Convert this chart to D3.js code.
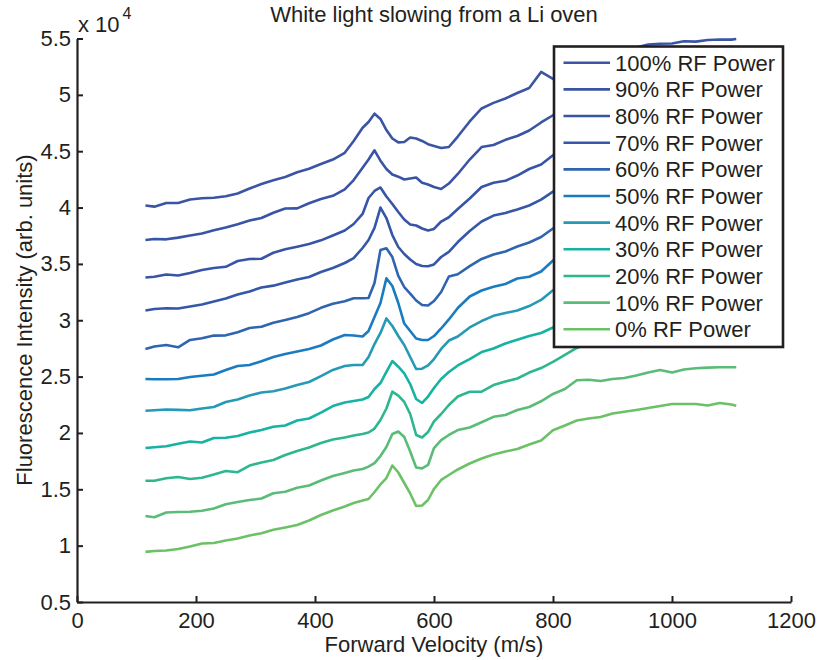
<!DOCTYPE html>
<html>
<head>
<meta charset="utf-8">
<script src="https://cdn.jsdelivr.net/npm/d3@7"></script>
<style>
  body { margin: 0; background: #ffffff; }
  svg text { font-family: "Liberation Sans", Arial, Helvetica, sans-serif; fill: #231f20; }
</style>
</head>
<body>
<svg id="chart" width="819" height="660"></svg>
<script>
// ---------------- data (intensity in units of 10^4) ----------------
const velocity = [115,130,150,170,190,210,230,250,270,290,310,330,350,370,390,410,430,450,465,480,
  490,500,510,520,530,540,550,560,570,580,590,600,612,625,640,660,680,700,720,740,
  760,780,800,820,840,860,880,900,920,940,960,980,1000,1020,1040,1060,1080,1100,1108];

const rf100 = [4.018,4.008,4.040,4.040,4.071,4.082,4.087,4.101,4.125,4.169,4.209,4.242,4.271,4.313,4.344,4.386,4.426,4.486,4.591,4.708,
  4.759,4.833,4.786,4.688,4.613,4.578,4.582,4.622,4.613,4.591,4.562,4.546,4.528,4.537,4.630,4.764,4.879,4.929,4.968,5.016,
  5.061,5.203,5.141,5.185,5.238,5.283,5.327,5.363,5.398,5.421,5.447,5.453,5.456,5.476,5.472,5.487,5.491,5.490,5.496];
const rf90 = [3.712,3.721,3.718,3.733,3.752,3.770,3.799,3.823,3.852,3.885,3.907,3.954,3.992,3.993,4.038,4.076,4.104,4.162,4.244,4.353,
  4.426,4.508,4.416,4.342,4.293,4.274,4.249,4.258,4.267,4.220,4.205,4.182,4.165,4.213,4.298,4.426,4.537,4.555,4.601,4.635,
  4.684,4.755,4.819,4.857,4.901,4.945,4.990,5.025,5.061,5.087,5.114,5.132,5.149,5.167,5.176,5.185,5.194,5.203,5.203];
const rf80 = [3.379,3.386,3.406,3.397,3.419,3.446,3.464,3.474,3.526,3.543,3.546,3.599,3.630,3.653,3.677,3.709,3.752,3.796,3.854,3.943,
  4.085,4.147,4.178,4.098,4.032,3.961,3.894,3.850,3.841,3.814,3.796,3.810,3.876,3.914,3.987,4.080,4.182,4.220,4.237,4.284,
  4.342,4.382,4.464,4.511,4.555,4.599,4.644,4.679,4.715,4.750,4.777,4.803,4.821,4.839,4.857,4.866,4.875,4.883,4.883];
const rf70 = [3.087,3.100,3.106,3.104,3.122,3.140,3.166,3.193,3.229,3.255,3.291,3.307,3.335,3.362,3.384,3.428,3.464,3.508,3.552,3.641,
  3.712,3.819,4.000,3.907,3.756,3.650,3.588,3.539,3.499,3.481,3.479,3.495,3.561,3.606,3.694,3.792,3.876,3.929,3.952,3.983,
  4.018,4.071,4.142,4.191,4.236,4.280,4.324,4.360,4.395,4.431,4.457,4.484,4.502,4.520,4.537,4.546,4.555,4.564,4.564];
const rf60 = [2.745,2.767,2.780,2.760,2.825,2.841,2.864,2.866,2.893,2.931,2.943,2.978,3.002,3.029,3.063,3.110,3.146,3.168,3.195,3.195,
  3.197,3.331,3.623,3.638,3.561,3.393,3.295,3.237,3.175,3.135,3.131,3.171,3.251,3.388,3.408,3.480,3.544,3.583,3.610,3.654,
  3.690,3.739,3.814,3.863,3.907,3.952,3.996,4.032,4.067,4.103,4.129,4.156,4.174,4.191,4.209,4.218,4.227,4.236,4.236];
const rf50 = [2.479,2.476,2.477,2.479,2.496,2.508,2.519,2.559,2.594,2.603,2.636,2.674,2.701,2.723,2.745,2.776,2.829,2.869,2.865,2.856,
  2.905,3.029,3.153,3.372,3.304,3.153,2.971,2.905,2.838,2.825,2.825,2.860,2.927,3.007,3.109,3.211,3.264,3.298,3.322,3.370,
  3.386,3.433,3.530,3.579,3.623,3.668,3.712,3.748,3.783,3.810,3.836,3.863,3.881,3.898,3.916,3.925,3.934,3.943,3.943];
const rf40 = [2.197,2.202,2.208,2.205,2.202,2.217,2.230,2.275,2.297,2.332,2.359,2.370,2.394,2.425,2.452,2.505,2.559,2.594,2.603,2.603,
  2.674,2.789,2.887,3.016,2.949,2.860,2.780,2.674,2.567,2.570,2.599,2.656,2.745,2.820,2.856,2.936,2.993,3.039,3.064,3.087,
  3.126,3.180,3.267,3.313,3.357,3.401,3.446,3.481,3.517,3.543,3.570,3.597,3.614,3.632,3.650,3.659,3.668,3.677,3.677];
const rf30 = [1.866,1.873,1.882,1.904,1.924,1.915,1.955,1.957,1.973,2.004,2.026,2.055,2.066,2.110,2.128,2.181,2.239,2.270,2.284,2.297,
  2.319,2.390,2.443,2.541,2.638,2.588,2.528,2.434,2.301,2.266,2.323,2.399,2.479,2.541,2.599,2.656,2.718,2.749,2.794,2.827,
  2.860,2.887,2.936,2.984,3.029,3.073,3.118,3.153,3.189,3.215,3.242,3.268,3.286,3.304,3.322,3.331,3.340,3.348,3.348];
const rf20 = [1.576,1.576,1.598,1.609,1.591,1.602,1.631,1.662,1.652,1.711,1.738,1.760,1.804,1.840,1.871,1.911,1.942,1.960,1.977,1.991,
  2.004,2.039,2.115,2.217,2.366,2.332,2.275,2.168,1.982,1.960,2.008,2.102,2.168,2.248,2.323,2.366,2.366,2.425,2.457,2.483,
  2.536,2.576,2.630,2.692,2.754,2.798,2.834,2.869,2.905,2.931,2.958,2.984,3.002,3.020,3.038,3.047,3.056,3.064,3.064];
const rf10 = [1.263,1.252,1.294,1.299,1.301,1.309,1.330,1.368,1.387,1.405,1.418,1.465,1.478,1.513,1.534,1.578,1.618,1.645,1.667,1.680,
  1.701,1.733,1.795,1.875,1.991,2.013,1.964,1.835,1.693,1.686,1.716,1.866,1.937,1.982,2.026,2.048,2.095,2.143,2.159,2.204,
  2.230,2.281,2.346,2.390,2.467,2.472,2.461,2.479,2.488,2.510,2.536,2.559,2.536,2.563,2.574,2.580,2.583,2.583,2.583];
const rf0 = [0.945,0.953,0.957,0.970,0.992,1.019,1.024,1.046,1.063,1.090,1.110,1.141,1.161,1.183,1.223,1.272,1.312,1.347,1.378,1.401,
  1.414,1.476,1.543,1.600,1.711,1.649,1.556,1.463,1.352,1.356,1.405,1.503,1.583,1.627,1.676,1.729,1.773,1.809,1.835,1.858,
  1.898,1.933,2.024,2.066,2.110,2.128,2.142,2.173,2.188,2.204,2.221,2.239,2.257,2.257,2.257,2.244,2.266,2.252,2.242];

const seriesLabels = ["100% RF Power","90% RF Power","80% RF Power","70% RF Power","60% RF Power","50% RF Power",
  "40% RF Power","30% RF Power","20% RF Power","10% RF Power","0% RF Power"];
const seriesValues = [rf100, rf90, rf80, rf70, rf60, rf50, rf40, rf30, rf20, rf10, rf0];
const seriesColors = ["#3b54a4","#3a54a5","#3854a6","#3557a8","#2f64ae","#1b7bc0","#2599b6","#16b2a3","#2eb78e","#5bbc77","#6cc166"];

const xTicks = [0,200,400,600,800,1000,1200];
const yTicks = [0.5,1,1.5,2,2.5,3,3.5,4,4.5,5,5.5];
const titleText = "White light slowing from a Li oven";
const xLabelText = "Forward Velocity (m/s)";
const yLabelText = "Fluorescence Intensity (arb. units)";
const exponentBase = "x 10";
const exponentPower = "4";

// ---------------- drawing ----------------
const ink = "#231f20";
const svg = d3.select("#chart");
const x = d3.scaleLinear().domain([0, 1200]).range([77, 791]);
const y = d3.scaleLinear().domain([0.5, 5.5]).range([602, 38.5]);

// data lines
const line = d3.line()
  .x((d, i) => x(velocity[i]))
  .y(d => y(d));

svg.append("g").selectAll("path")
  .data(seriesValues)
  .join("path")
  .attr("d", d => line(d))
  .attr("fill", "none")
  .attr("stroke", (d, i) => seriesColors[i])
  .attr("stroke-width", 2.6)
  .attr("stroke-linejoin", "round")
  .attr("stroke-linecap", "butt");

// axes
const xAxis = d3.axisBottom(x).tickValues(xTicks).tickFormat(d3.format("d"))
  .tickSizeInner(-6).tickSizeOuter(0).tickPadding(10);
const yAxis = d3.axisLeft(y).tickValues(yTicks).tickFormat(d => String(d))
  .tickSizeInner(-6).tickSizeOuter(0).tickPadding(6);

const gx = svg.append("g").attr("transform", "translate(0,602)").call(xAxis);
const gy = svg.append("g").attr("transform", "translate(77,0)").call(yAxis);
[gx, gy].forEach(g => {
  g.select(".domain").attr("stroke", ink).attr("stroke-width", 2.2);
  g.selectAll(".tick line").attr("stroke", ink).attr("stroke-width", 2);
  g.selectAll(".tick text").attr("font-size", 22)
    .attr("font-family", '"Liberation Sans", Arial, Helvetica, sans-serif').attr("fill", ink);
});

// title and labels
svg.append("text").attr("x", 434).attr("y", 22).attr("text-anchor", "middle")
  .attr("font-size", 22).text(titleText);
svg.append("text").attr("x", 434).attr("y", 652).attr("text-anchor", "middle")
  .attr("font-size", 22).text(xLabelText);
svg.append("text").attr("transform", "translate(31.5,320) rotate(-90)").attr("text-anchor", "middle")
  .attr("font-size", 22).text(yLabelText);
svg.append("text").attr("x", 78).attr("y", 31.5).attr("font-size", 22).text(exponentBase);
svg.append("text").attr("x", 122.5).attr("y", 18.5).attr("font-size", 16).text(exponentPower);

// legend
const legend = svg.append("g");
legend.append("rect").attr("x", 554).attr("y", 46.5).attr("width", 229).attr("height", 300.5)
  .attr("fill", "#ffffff").attr("stroke", ink).attr("stroke-width", 2.6);
const rowY = d3.scaleLinear().domain([0, 10]).range([62.7, 329.3]);
const rows = legend.selectAll("g.row").data(seriesLabels).join("g").attr("class", "row");
rows.append("line")
  .attr("x1", 563.5).attr("x2", 610)
  .attr("y1", (d, i) => rowY(i)).attr("y2", (d, i) => rowY(i))
  .attr("stroke", (d, i) => seriesColors[i]).attr("stroke-width", 2.6);
rows.append("text")
  .attr("x", 615).attr("y", (d, i) => rowY(i) + 8)
  .attr("font-size", 22).text(d => d);
</script>
</body>
</html>
